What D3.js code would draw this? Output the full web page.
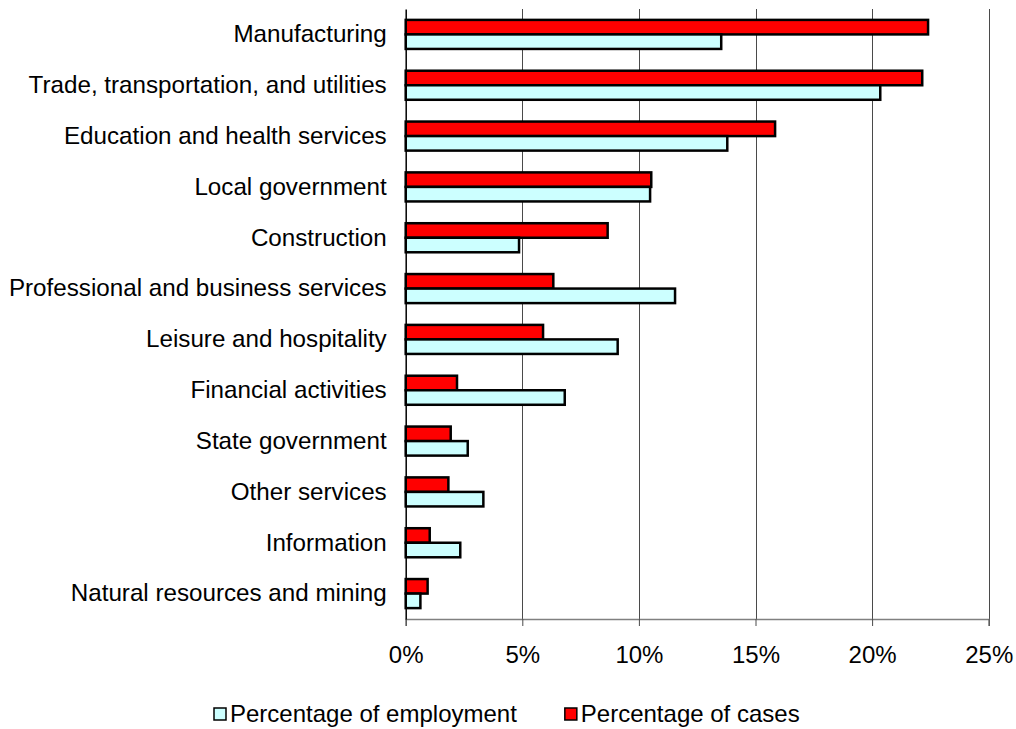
<!DOCTYPE html>
<html>
<head>
<meta charset="utf-8">
<script src="https://cdn.jsdelivr.net/npm/d3@7"></script>
<style>
  html, body { margin: 0; padding: 0; background: #fff; }
  svg { display: block; font-family: "Liberation Sans", Arial, sans-serif; }
</style>
</head>
<body>
<svg id="chart" width="1016" height="729"></svg>
<script>
// Industry sectors, top to bottom
const categories = [
  "Manufacturing",
  "Trade, transportation, and utilities",
  "Education and health services",
  "Local government",
  "Construction",
  "Professional and business services",
  "Leisure and hospitality",
  "Financial activities",
  "State government",
  "Other services",
  "Information",
  "Natural resources and mining"
];

// Share of cases (%) per sector
const casesPct = [22.40, 22.15, 15.84, 10.53, 8.66, 6.33, 5.89, 2.20, 1.93, 1.83, 1.03, 0.94];

// Share of employment (%) per sector
const employmentPct = [13.53, 20.35, 13.79, 10.48, 4.86, 11.55, 9.09, 6.82, 2.66, 3.33, 2.34, 0.63];

const xTicks = [0, 5, 10, 15, 20, 25];

const seriesNames = ["Percentage of cases", "Percentage of employment"];
const seriesColors = { "Percentage of cases": "#FF0000", "Percentage of employment": "#CCFFFF" };
const legendOrder = ["Percentage of employment", "Percentage of cases"];

const rows = categories.map((c, i) => ({
  category: c,
  values: [
    { series: "Percentage of cases", value: casesPct[i] },
    { series: "Percentage of employment", value: employmentPct[i] }
  ]
}));

const svg = d3.select("#chart");
const plotLeft = 405.7, plotRight = 988.7, plotTop = 9, plotBottom = 619;

const x = d3.scaleLinear().domain([0, 25]).range([plotLeft, plotRight]);

const y = d3.scaleBand()
  .domain(categories)
  .range([plotTop, plotBottom])
  .paddingInner(1.5 / 3.5)
  .paddingOuter(0.75 / 3.5);

const ySub = d3.scaleBand()
  .domain(seriesNames)
  .range([0, y.bandwidth()]);

// Vertical gridlines
svg.append("g")
  .selectAll("line")
  .data(xTicks.filter(d => d > 0))
  .join("line")
  .attr("x1", d => Math.round(x(d)) + 0.5)
  .attr("x2", d => Math.round(x(d)) + 0.5)
  .attr("y1", plotTop)
  .attr("y2", plotBottom)
  .attr("stroke", "#4a4a4a")
  .attr("stroke-width", 1);

// Bars
const groups = svg.append("g")
  .selectAll("g")
  .data(rows)
  .join("g")
  .attr("transform", d => `translate(0,${y(d.category)})`);

groups.selectAll("rect")
  .data(d => d.values)
  .join("rect")
  .attr("x", x(0))
  .attr("y", d => ySub(d.series))
  .attr("width", d => x(d.value) - x(0))
  .attr("height", ySub.bandwidth())
  .attr("fill", d => seriesColors[d.series])
  .attr("stroke", "#000")
  .attr("stroke-width", 2.5);

// Bottom axis
const xAxis = svg.append("g")
  .attr("transform", `translate(0,${plotBottom})`)
  .call(d3.axisBottom(x)
    .tickValues(xTicks)
    .tickFormat(d => d + "%")
    .tickSize(7)
    .tickPadding(20));
xAxis.select(".domain").attr("stroke", "#808080").attr("stroke-width", 1.5);
xAxis.selectAll(".tick line").attr("stroke", "#4a4a4a");
xAxis.selectAll("text")
  .attr("font-size", 24)
  .attr("fill", "#000")
  .attr("font-family", "Liberation Sans, Arial, sans-serif");

// Left axis with category labels
const yAxis = svg.append("g")
  .attr("transform", `translate(${plotLeft},0)`)
  .call(d3.axisLeft(y).tickSize(0).tickPadding(19));
yAxis.select(".domain").attr("stroke", "#000").attr("stroke-width", 1.5);
yAxis.selectAll("text")
  .attr("font-size", 24.2)
  .attr("fill", "#000")
  .attr("font-family", "Liberation Sans, Arial, sans-serif");

// Legend
const legend = svg.append("g").attr("transform", "translate(0,714)");
const legendFont = 24;
let lx = 214;
legendOrder.forEach((name, i) => {
  const g = legend.append("g").attr("transform", `translate(${lx},0)`);
  g.append("rect")
    .attr("x", 0).attr("y", -6)
    .attr("width", 12).attr("height", 12)
    .attr("fill", seriesColors[name])
    .attr("stroke", "#000")
    .attr("stroke-width", 1.5);
  const t = g.append("text")
    .attr("x", 16)
    .attr("y", 0)
    .attr("dy", "0.35em")
    .attr("font-size", legendFont)
    .attr("fill", "#000")
    .text(name);
  lx += 16 + t.node().getComputedTextLength() + 48;
});
</script>
</body>
</html>
